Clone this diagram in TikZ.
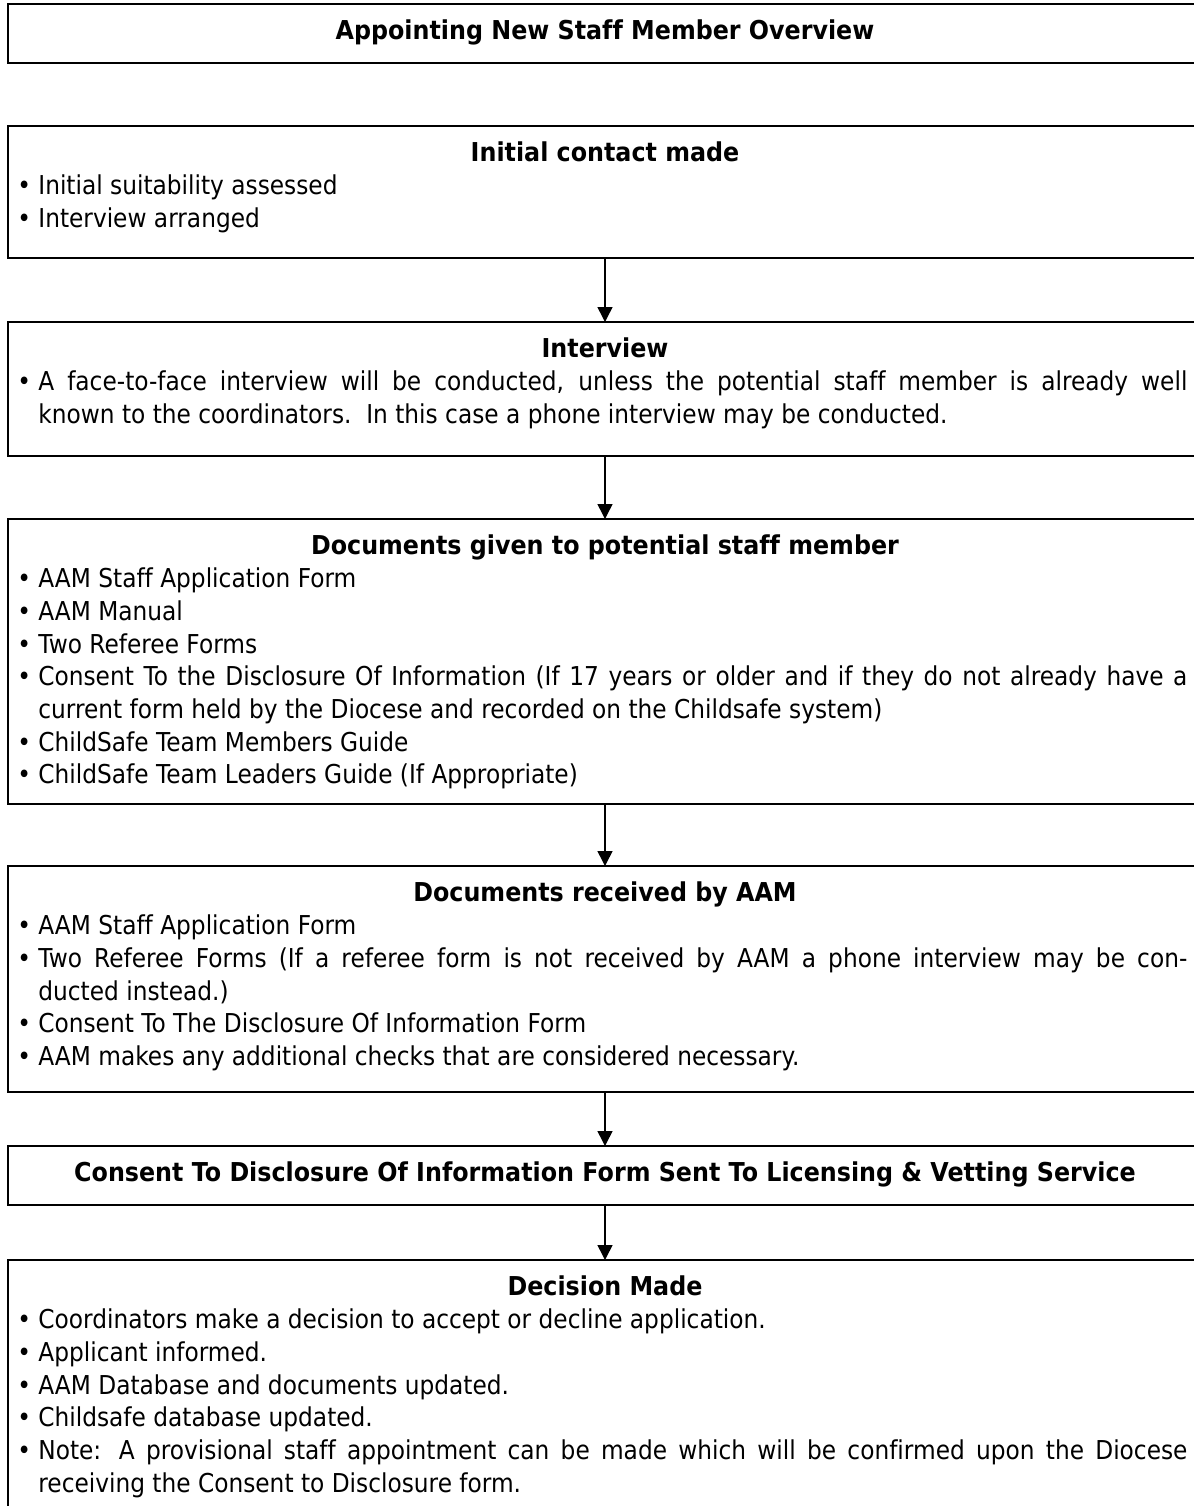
\documentclass[tikz,border=0pt]{standalone}
\usepackage{fontspec}
\setmainfont{DejaVu Sans}[Ligatures=NoCommon, UprightFeatures={FakeStretch=0.895}, BoldFeatures={FakeStretch=0.915}]
\usetikzlibrary{arrows.meta}
\newcommand\itm[1]{\par\noindent\hangindent=11.5pt\hangafter=1\makebox[11.5pt][l]{\hspace{1pt}•}#1}
\newcommand\jline[1]{\makebox[574.5pt][s]{#1}\linebreak}
\begin{document}
\begin{tikzpicture}[x=0.5pt,y=-0.5pt,
  frame/.style={draw, line width=1pt, anchor=north west, minimum width=597pt, inner sep=0pt, outer sep=0pt},
  ttl/.style={anchor=base, font=\fontsize{13pt}{16.35pt}\selectfont\bfseries, inner sep=0pt},
  items/.style={anchor=base west, text width=586pt, inner sep=0pt, align=justify, font=\fontsize{13pt}{16.35pt}\selectfont},
  arr/.style={line width=0.75pt, -{Triangle[length=7.5pt,width=7.5pt]}}]
\useasboundingbox (0,0) rectangle (1194,1506);
% boxes
\node[frame, minimum height=29.5pt] (b1) at (8,4) {};
\node[frame, minimum height=66pt] (b2) at (8,126) {};
\node[frame, minimum height=67pt] (b3) at (8,322) {};
\node[frame, minimum height=142.5pt] (b4) at (8,519) {};
\node[frame, minimum height=113pt] (b5) at (8,866) {};
\node[frame, minimum height=29.5pt] (b6) at (8,1146) {};
\node[frame, minimum height=160pt] (b7) at (8,1260) {};
% titles
\node[ttl] (t1) at (605,39) {Appointing New Staff Member Overview};
\node[ttl] (t2) at (605,161) {Initial contact made};
\node[ttl] (t3) at (605,357) {Interview};
\node[ttl] (t4) at (605,554) {Documents given to potential staff member};
\node[ttl] (t5) at (605,901) {Documents received by AAM};
\node[ttl] (t6) at (605,1181) {Consent To Disclosure Of Information Form Sent To Licensing \& Vetting Service};
\node[ttl] (t7) at (605,1295) {Decision Made};
% items
\node[items] (i2) at (15,162) {%
\itm{Initial suitability assessed}
\itm{Interview arranged}\par};
\node[items] (i3) at (15,358) {%
\itm{\jline{A face-to-face interview will be conducted, unless the potential staff member is already well}known to the coordinators.\ \ In this case a phone interview may be conducted.}\par};
\node[items] (i4) at (15,555) {%
\itm{AAM Staff Application Form}
\itm{AAM Manual}
\itm{Two Referee Forms}
\itm{\jline{Consent To the Disclosure Of Information (If 17 years or older and if they do not already have a}current form held by the Diocese and recorded on the Childsafe system)}
\itm{ChildSafe Team Members Guide}
\itm{ChildSafe Team Leaders Guide (If Appropriate)}\par};
\node[items] (i5) at (15,902) {%
\itm{AAM Staff Application Form}
\itm{\jline{Two Referee Forms (If a referee form is not received by AAM a phone interview may be con-}ducted instead.)}
\itm{Consent To The Disclosure Of Information Form}
\itm{AAM makes any additional checks that are considered necessary.}\par};
\node[items] (i7) at (15,1296) {%
\itm{Coordinators make a decision to accept or decline application.}
\itm{Applicant informed.}
\itm{AAM Database and documents updated.}
\itm{Childsafe database updated.}
\itm{\jline{Note: A provisional staff appointment can be made which will be confirmed upon the Diocese}receiving the Consent to Disclosure form.}\par};
% arrows
\draw[arr] (b2.south) -- (b3.north);
\draw[arr] (b3.south) -- (b4.north);
\draw[arr] (b4.south) -- (b5.north);
\draw[arr] (b5.south) -- (b6.north);
\draw[arr] (b6.south) -- (b7.north);
\end{tikzpicture}
\end{document}
